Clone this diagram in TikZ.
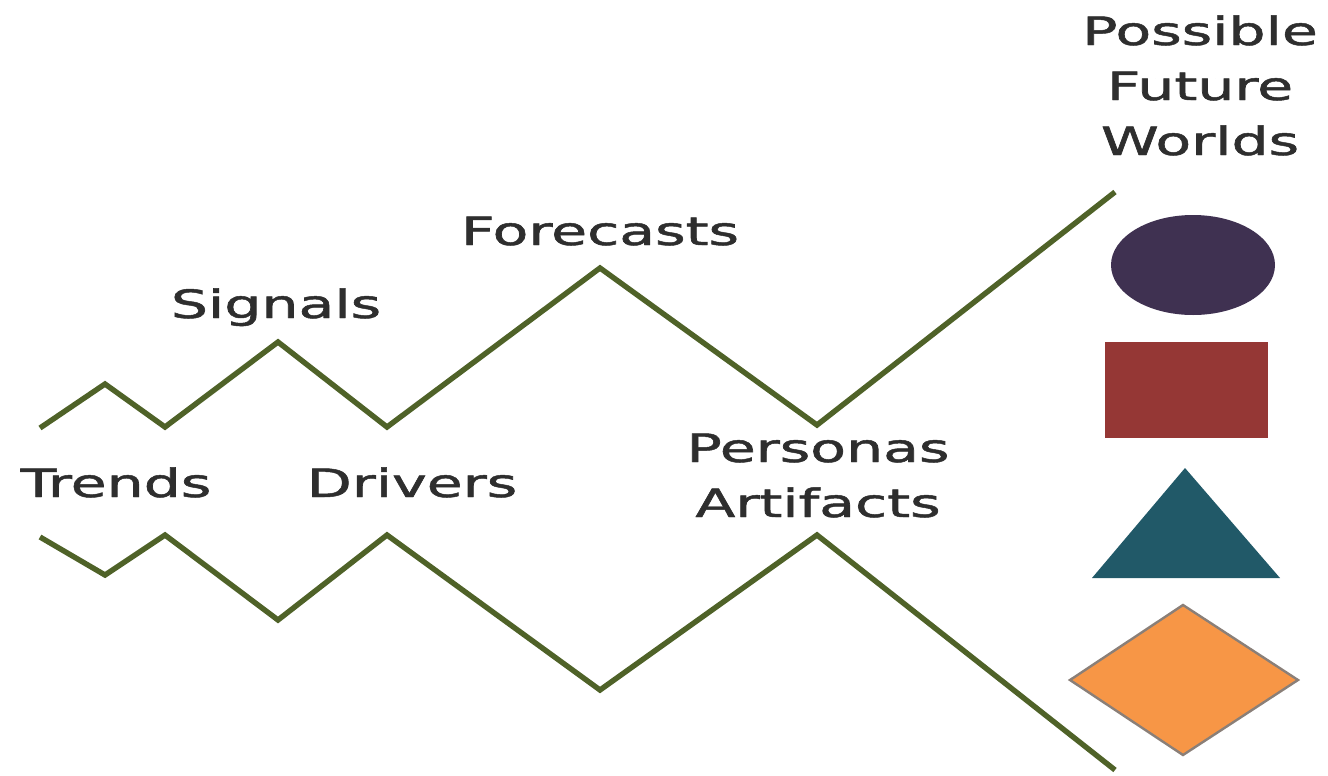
\documentclass[tikz,border=0pt]{standalone}
\usepackage{fontspec}
\setmainfont{DejaVu Sans}
\newfontfamily\lblfont[FakeBold=1.2]{DejaVu Sans}
\usetikzlibrary{positioning}

\definecolor{pathgreen}{HTML}{4F6228}
\definecolor{worldpurple}{HTML}{3F3151}
\definecolor{worldred}{HTML}{953735}
\definecolor{worldteal}{HTML}{215968}
\definecolor{worldorange}{HTML}{F79646}
\definecolor{worldedge}{HTML}{8A7F78}
\definecolor{labelgray}{HTML}{2E2E2E}

\newcommand{\wide}[1]{\scalebox{1.5}[1]{#1}}

\begin{document}
\begin{tikzpicture}[x=0.5pt, y=-0.5pt,
    zigzag/.style={draw=pathgreen, line width=2.7pt, line join=miter},
    lbl/.style={font=\lblfont\fontsize{19.5}{27.5}\selectfont, text=labelgray,
                anchor=base, inner sep=0pt, align=center}]
\useasboundingbox (0,0) rectangle (1328,776);

        % Corners of the two paths
        \foreach \n/\x/\y in {0/40/428, 1/105/384, 2/165/427, 3/278/342,
                              4/387/427, 5/600/268, 6/817/425, 7/1115/192}
            \coordinate (u\n) at (\x,\y);
        \foreach \n/\x/\y in {0/40/537, 1/105/575, 2/165/535, 3/278/620,
                              4/387/535, 5/600/690, 6/817/535, 7/1115/770}
            \coordinate (l\n) at (\x,\y);

        % Draw the paths
        \draw[zigzag] (u0) \foreach \n in {1,...,7} {-- (u\n)};
        \draw[zigzag] (l0) \foreach \n in {1,...,7} {-- (l\n)};

        % Labels (base = last line)
        \node[lbl] at (116, 497)   (trends)    {\wide{Trends}};
        \node[lbl] at (412, 497)   (drivers)   {\wide{Drivers}};
        \node[lbl] at (276, 318)   (signals)   {\wide{Signals}};
        \node[lbl] at (600, 245)   (forecasts) {\wide{Forecasts}};
        \node[lbl] at (818, 517)   (personas)  {\wide{Personas}\\\wide{Artifacts}};
        \node[lbl] at (1200, 155)  (worlds)    {\wide{Possible}\\\wide{Future}\\\wide{Worlds}};

        % Possible worlds
        \fill[worldpurple] (1193,265) ellipse [x radius=82, y radius=50];
        \fill[worldred] (1105,342) rectangle (1268,438);
        \fill[worldteal] (1185,468) -- (1280,578) -- (1092,578) -- cycle;
        \filldraw[fill=worldorange, draw=worldedge, line width=1.2pt]
            (1070,680) -- (1183,605) -- (1298,680) -- (1183,755) -- cycle;
\end{tikzpicture}
\end{document}
